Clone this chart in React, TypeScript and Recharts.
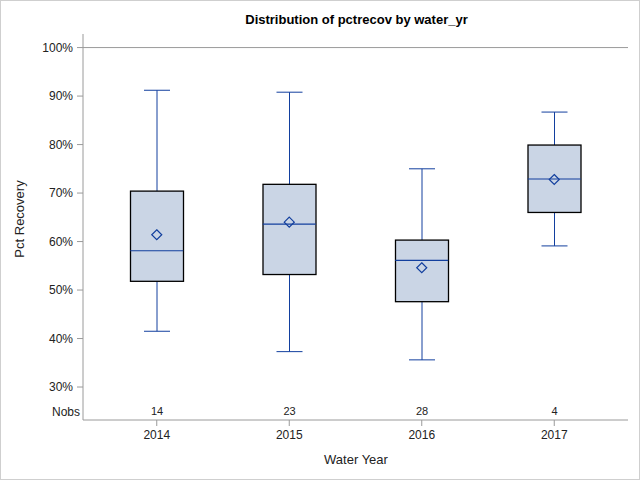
import {
  Bar,
  ComposedChart,
  Line,
  ReferenceLine,
  XAxis,
  YAxis,
} from "recharts";

const years = ["2014", "2015", "2016", "2017"];
const nobs = [14, 23, 28, 4];
const mins = [41.5, 37.3, 35.6, 59.1];
const q1s = [51.8, 53.2, 47.6, 66.0];
const medians = [58.1, 63.6, 56.1, 72.9];
const q3s = [70.4, 71.8, 60.3, 79.9];
const maxs = [91.2, 90.8, 75.0, 86.7];
const means = [61.4, 64.0, 54.6, 72.8];
const yTicks = [30, 40, 50, 60, 70, 80, 90, 100];

const data = years.map((year, i) => ({
  year,
  nobs: nobs[i],
  min: mins[i],
  q1: q1s[i],
  median: medians[i],
  q3: q3s[i],
  max: maxs[i],
  mean: means[i],
}));

const BLUE = "#123f9e";
const FILL = "#cad5e5";
const AXIS = "#9a9a9a";
const FONT = "'Liberation Sans', Arial, sans-serif";
const BOX_W = 53;
const CAP_W = 26;

const UpperWhisker = (props: any) => {
  const { x, y, width, height } = props;
  const cx = x + width / 2;
  return (
    <g>
      <line x1={cx} x2={cx} y1={y} y2={y + height} stroke={BLUE} />
      <line x1={cx - CAP_W / 2} x2={cx + CAP_W / 2} y1={y} y2={y} stroke={BLUE} />
    </g>
  );
};

const LowerWhisker = (props: any) => {
  const { x, y, width, height, payload, background } = props;
  const cx = x + width / 2;
  const bottom = background ? background.y + background.height : 420;
  return (
    <g>
      <line x1={cx} x2={cx} y1={y} y2={y + height} stroke={BLUE} />
      <line
        x1={cx - CAP_W / 2}
        x2={cx + CAP_W / 2}
        y1={y + height}
        y2={y + height}
        stroke={BLUE}
      />
      <text
        x={cx}
        y={bottom - 5}
        textAnchor="middle"
        fontSize={11}
        fontFamily={FONT}
        fill="#222"
      >
        {payload.nobs}
      </text>
    </g>
  );
};

const BoxShape = (props: any) => {
  const { x, y, width, height } = props;
  return (
    <rect
      x={x}
      y={y}
      width={width}
      height={height}
      fill={FILL}
      stroke="#000"
      strokeWidth={1.3}
    />
  );
};

const MedianDot = (props: any) => {
  const { cx, cy, index } = props;
  return (
    <line
      key={`med-${index}`}
      x1={cx - BOX_W / 2}
      x2={cx + BOX_W / 2}
      y1={cy}
      y2={cy}
      stroke={BLUE}
      strokeWidth={1.2}
    />
  );
};

const MeanDot = (props: any) => {
  const { cx, cy, index } = props;
  const r = 5;
  return (
    <path
      key={`mean-${index}`}
      d={`M${cx},${cy - r}L${cx + r},${cy}L${cx},${cy + r}L${cx - r},${cy}Z`}
      fill="none"
      stroke={BLUE}
      strokeWidth={1.2}
    />
  );
};

const pad = { left: 7.5, right: 7.5 };

export default function App() {
  return (
    <div
      style={{
        position: "absolute",
        left: 0,
        top: 0,
        width: 638,
        height: 478,
        border: "1px solid #cfcfcf",
        background: "#fff",
        fontFamily: FONT,
      }}
    >
      <div
        style={{
          position: "absolute",
          top: 11,
          left: 0,
          width: 711,
          textAlign: "center",
          fontSize: 13,
          fontWeight: "bold",
          color: "#000",
        }}
      >
        Distribution of pctrecov by water_yr
      </div>
      <ComposedChart
        width={638}
        height={478}
        data={data}
        margin={{ top: 33, right: 11, bottom: 0, left: 0 }}
        barGap={0}
        barCategoryGap={0}
      >
        <XAxis
          xAxisId="x"
          dataKey="year"
          padding={pad}
          stroke={AXIS}
          tickSize={6}
          height={59}
          tick={{ fill: "#222", fontSize: 12, fontFamily: FONT }}
          tickMargin={4}
          label={{
            content: () => (
              <text
                x={355}
                y={463}
                textAnchor="middle"
                fontSize={13}
                fontFamily={FONT}
                fill="#222"
              >
                Water Year
              </text>
            ),
          }}
        />
        <XAxis xAxisId="u" dataKey="year" padding={pad} height={0} hide />
        <XAxis xAxisId="l" dataKey="year" padding={pad} height={0} hide />
        <XAxis
          xAxisId="t"
          orientation="top"
          dataKey="year"
          padding={pad}
          stroke={AXIS}
          tick={false}
          tickLine={false}
          height={0}
        />
        <YAxis
          yAxisId="y"
          domain={[23.2, 102.8]}
          ticks={yTicks}
          allowDataOverflow
          width={82}
          stroke={AXIS}
          tickSize={6}
          tickMargin={4}
          tick={{ fill: "#222", fontSize: 12, fontFamily: FONT }}
          tickFormatter={(v: number) => `${v}%`}
          label={{
            content: () => (
              <g>
                <text
                  x={23}
                  y={218}
                  textAnchor="middle"
                  fontSize={13}
                  fontFamily={FONT}
                  fill="#222"
                  transform="rotate(-90, 23, 218)"
                >
                  Pct Recovery
                </text>
                <text
                  x={79}
                  y={415}
                  textAnchor="end"
                  fontSize={12}
                  fontFamily={FONT}
                  fill="#222"
                >
                  Nobs
                </text>
              </g>
            ),
          }}
        />
        <YAxis
          yAxisId="r"
          orientation="right"
          domain={[23.2, 102.8]}
          allowDataOverflow
          width={0}
          stroke={AXIS}
          tick={false}
          tickLine={false}
        />
        <ReferenceLine yAxisId="y" xAxisId="x" y={100} stroke={AXIS} />
        <Bar
          xAxisId="u"
          yAxisId="y"
          dataKey={(d: any) => [d.q3, d.max]}
          barSize={BOX_W}
          shape={UpperWhisker}
          isAnimationActive={false}
        />
        <Bar
          xAxisId="l"
          yAxisId="y"
          dataKey={(d: any) => [d.min, d.q1]}
          barSize={BOX_W}
          shape={LowerWhisker}
          isAnimationActive={false}
        />
        <Bar
          xAxisId="x"
          yAxisId="y"
          dataKey={(d: any) => [d.q1, d.q3]}
          barSize={BOX_W}
          shape={BoxShape}
          isAnimationActive={false}
        />
        <Line
          xAxisId="x"
          yAxisId="y"
          dataKey="median"
          stroke="none"
          dot={MedianDot}
          activeDot={false}
          isAnimationActive={false}
        />
        <Line
          xAxisId="x"
          yAxisId="y"
          dataKey="mean"
          stroke="none"
          dot={MeanDot}
          activeDot={false}
          isAnimationActive={false}
        />
      </ComposedChart>
    </div>
  );
}
